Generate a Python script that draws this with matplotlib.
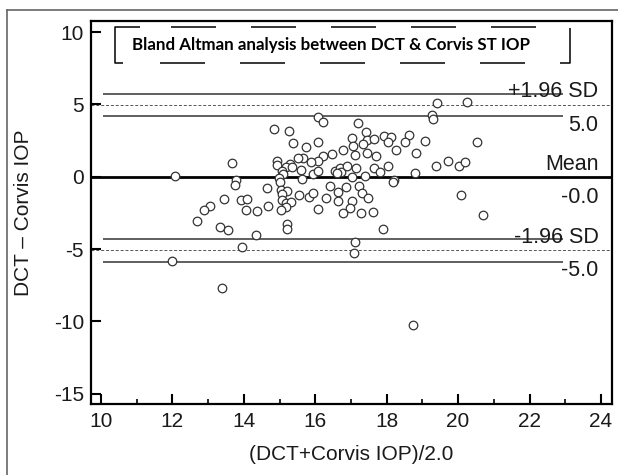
import matplotlib
matplotlib.use('Agg')
import matplotlib.pyplot as plt
from matplotlib.lines import Line2D

plt.rcParams['font.family'] = ['Liberation Sans', 'DejaVu Sans']
plt.rcParams['axes.unicode_minus'] = False

# mean of the two readings (x) and their difference (y)
mean_iop = [12.07, 13.66, 13.77, 13.75, 14.64, 13.44, 13.91, 14.10, 13.05, 12.88,
            14.06, 14.36, 14.68, 12.70, 13.33, 13.55, 14.34, 13.94, 12.00, 13.38,
            15.20, 15.22, 17.89, 17.11, 17.08, 18.75, 20.69, 19.40, 20.26, 19.26,
            19.29, 18.62, 18.52, 19.07, 20.53, 18.83, 19.38, 19.72, 20.03, 20.19,
            18.78, 20.09, 16.07, 16.23, 17.19, 14.85, 15.26, 15.37, 15.73, 16.07,
            17.02, 17.41, 17.44, 17.33, 17.65, 17.05, 17.93, 18.11, 18.05, 18.26,
            17.11, 17.46, 17.70, 16.79, 16.47, 16.23, 16.07, 15.87, 15.67, 15.51,
            14.92, 14.94, 15.29, 15.18, 15.36, 15.06, 15.10, 14.98, 15.01, 15.60,
            15.62, 15.93, 16.07, 16.55, 16.69, 16.71, 16.88, 16.62, 17.13, 17.02,
            17.39, 17.65, 17.81, 18.05, 18.20, 18.18, 15.03, 15.20, 15.08, 15.06,
            15.18, 15.31, 15.17, 15.03, 15.55, 15.83, 15.95, 16.30, 16.41, 16.09,
            16.65, 16.85, 16.65, 17.02, 16.97, 16.77, 17.22, 17.32, 17.47, 17.28,
            17.63]
diff_iop = [0.02, 0.92, -0.21, -0.56, -0.76, -1.55, -1.62, -1.55, -2.01, -2.31,
            -2.27, -2.38, -2.01, -3.03, -3.45, -3.66, -4.05, -4.84, -5.79, -7.71,
            -3.29, -3.63, -3.61, -4.51, -5.26, -10.23, -2.66, 5.12, 5.16, 4.26,
            3.96, 2.90, 2.38, 2.48, 2.38, 1.67, 0.74, 1.06, 0.74, 1.04,
            0.26, -1.23, 4.12, 3.75, 3.73, 3.31, 3.15, 2.36, 2.08, 2.43,
            2.71, 3.08, 2.55, 2.27, 2.59, 2.10, 2.80, 2.73, 2.43, 1.88,
            1.53, 1.65, 1.46, 1.85, 1.57, 1.44, 1.11, 1.04, 1.27, 1.27,
            1.11, 0.83, 0.88, 0.69, 0.65, 0.42, 0.19, -0.09, -0.39, 0.49,
            -0.16, 0.19, 0.42, 0.42, 0.60, 0.30, 0.76, 0.23, 0.58, -0.05,
            0.07, 0.58, 0.30, 0.76, -0.23, -0.39, -0.93, -0.97, -1.20, -1.62,
            -1.78, -1.74, -2.08, -2.29, -1.27, -1.39, -1.09, -1.48, -0.63, -2.20,
            -1.02, -0.74, -1.67, -1.67, -2.13, -2.48, -0.63, -1.09, -1.44, -2.48,
            -2.43]

mean_diff = -0.05
loa_upper = 4.95
loa_lower = -5.09
ci_upper = [4.19, 5.74]
ci_lower = [-5.88, -4.33]

fig = plt.figure(figsize=(6.18, 4.75), dpi=100)
ax = fig.add_axes([91 / 618, 71 / 475, 521 / 618, 383 / 475])

# outer frame of the figure (top and left edges only)
fig.add_artist(Line2D([7 / 618, 1.0], [1 - 10 / 475, 1 - 10 / 475], color='#666666', lw=1.2))
fig.add_artist(Line2D([7 / 618, 7 / 618], [0, 1 - 10 / 475], color='#666666', lw=1.2))

ax.scatter(mean_iop, diff_iop, s=38, facecolors='white', edgecolors='#333333',
           linewidths=0.9, zorder=3)

ax.axhline(mean_diff, color='black', lw=2.0, zorder=2)
ax.axhline(loa_upper, color='#555555', lw=0.7, ls=(0, (3, 2)), zorder=2)
ax.axhline(loa_lower, color='#555555', lw=0.7, ls=(0, (3, 2)), zorder=2)
ax.hlines(ci_upper + ci_lower, 10.05, 22.93, color='#444444', lw=1.2, zorder=2)

lab_kw = dict(xycoords='data', textcoords='offset points', ha='right', fontsize=15.5,
              color='#1a1a1a')
ax.annotate('+1.96 SD', (23.93, loa_upper), xytext=(0, 5.5), va='baseline', **lab_kw)
ax.annotate('5.0', (23.93, loa_upper), xytext=(0, -7), va='top', **lab_kw)
ax.annotate('Mean', (23.93, mean_diff), xytext=(0, 5.5), va='baseline', **lab_kw)
ax.annotate('-0.0', (23.93, mean_diff), xytext=(0, -7), va='top', **lab_kw)
ax.annotate('-1.96 SD', (23.93, loa_lower), xytext=(0, 5.5), va='baseline', **lab_kw)
ax.annotate('-5.0', (23.93, loa_lower), xytext=(0, -7), va='top', **lab_kw)

# dashed title box
bl, br, bb, bt = 24 / 521, 479 / 521, 341 / 383, 377 / 383
box = Line2D([bl + 25 / 521, bl, bl, br, br, bl + 25 / 521], [bt, bt, bb, bb, bt, bt],
             transform=ax.transAxes, color='black', lw=1.1, clip_on=False)
px = 0.72 / 1.1
box.set_dashes([v * px for v in [69, 37] + [45, 35] * 12])
ax.add_artist(box)
ax.text(240 / 521, 359 / 383, 'Bland Altman analysis between DCT & Corvis ST IOP',
        transform=ax.transAxes, ha='center', va='center', fontsize=12.2,
        fontweight='bold', family=['Lato', 'DejaVu Sans'])

ax.set_xlim(9.72, 24.31)
ax.set_ylim(-15.7, 10.76)
ax.set_xticks(range(10, 25, 2))
ax.set_xticks(range(11, 24, 2), minor=True)
ax.set_yticks(range(-15, 11, 5))

for sp in ax.spines.values():
    sp.set_linewidth(1.6)
ax.tick_params(which='major', direction='in', length=7, width=1.5, labelsize=15,
               colors='black', labelcolor='#1a1a1a')
ax.tick_params(axis='x', which='major', pad=6)
ax.tick_params(axis='y', which='major', pad=5)
ax.tick_params(which='minor', direction='in', length=3.5, width=1.2)

ax.set_xlabel('(DCT+Corvis IOP)/2.0', fontsize=15, color='#1a1a1a', labelpad=10)
ax.set_ylabel('DCT \u2013 Corvis IOP', fontsize=15, color='#1a1a1a', labelpad=15)

fig.savefig('out.png', dpi=100)
